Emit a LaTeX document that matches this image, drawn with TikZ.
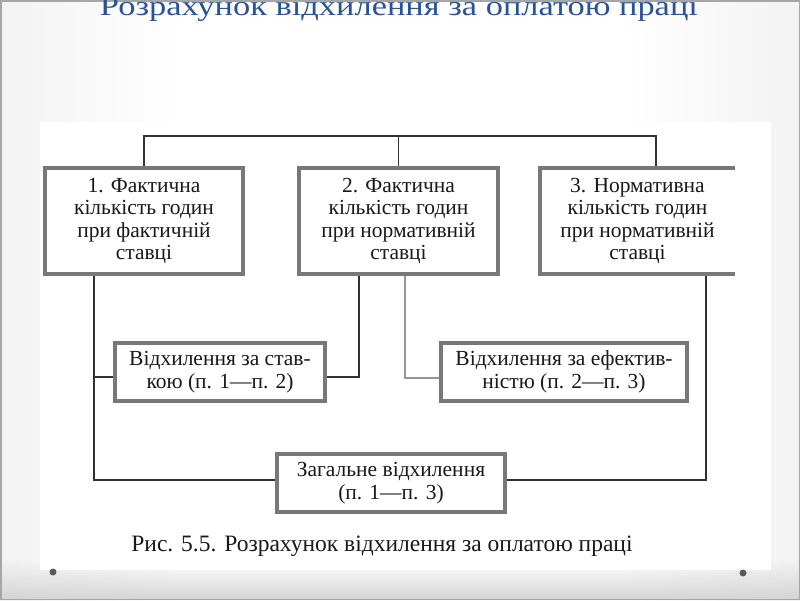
\documentclass[tikz,border=0pt]{standalone}
\usepackage{fontspec}
\setmainfont{Liberation Serif}
\usepackage{graphicx}
\usetikzlibrary{fadings}
\pgfdeclarelayer{bg}
\pgfdeclarelayer{lines}
\pgfsetlayers{bg,lines,main}
\definecolor{titleblue}{RGB}{42,82,150}
\definecolor{boxgray}{RGB}{120,120,120}
\definecolor{linedark}{RGB}{50,50,50}
\definecolor{linelight}{RGB}{150,150,150}
\definecolor{edgeA}{RGB}{212,212,212}
\definecolor{edgeB}{RGB}{234,234,234}
\definecolor{txt}{RGB}{25,25,25}
\pgfdeclarehorizontalshading{slidebg}{100bp}{color(0bp)=(edgeA); color(18bp)=(edgeB); color(36bp)=(white); color(64bp)=(white); color(82bp)=(edgeB); color(100bp)=(edgeA)}
\tikzset{
  box/.style={draw=boxgray, line width=4pt, fill=white, inner sep=0pt, align=center,
    font=\fontsize{21.5}{22.6}\selectfont, text=txt},
  openbox/.style={inner sep=0pt, align=center, fill=white,
    font=\fontsize{21.5}{22.6}\selectfont, text=txt},
  conn/.style={draw=linedark, line width=1.3pt},
  connlight/.style={draw=linelight, line width=1.3pt},
}
\begin{document}
\begin{tikzpicture}[x=1pt,y=-1pt]
\useasboundingbox (0,0) rectangle (800,600);
\begin{pgfonlayer}{bg}
  \shade[shading=slidebg] (0,0) rectangle (800,600);
  \fill[edgeA, path fading=north] (0,560) rectangle (800,600);
  \draw[gray!70, line width=1.5pt] (0.75,0.75) rectangle (799.25,599.25);
  \fill[white] (40,122) rectangle (771,570);
  \fill[gray!70!black] (53,572) circle (3.5);
  \fill[gray!70!black] (743,573) circle (3.5);
\end{pgfonlayer}

% title
\node[anchor=base, text=titleblue, inner sep=0pt] (title) at (399,15.7)
  {\resizebox{598pt}{18.5pt}{\fontsize{27}{27}\selectfont Розрахунок відхилення за оплатою праці}};

% boxes
\node[box, minimum width=198, minimum height=106] (b1) at (144,221)
  {1. Фактична\\кількість годин\\при фактичній\\ставці};
\node[box, minimum width=199, minimum height=106] (b2) at (398.5,221)
  {2. Фактична\\кількість годин\\при нормативній\\ставці};
\node[openbox, minimum width=195, minimum height=106] (b3) at (637.5,221)
  {3. Нормативна\\кількість годин\\при нормативній\\ставці};
\draw[boxgray, line width=4pt] (b3.north east) -- (b3.north west) -- (b3.south west) -- (b3.south east);

\node[box, minimum width=210, minimum height=58] (stavka) at (220,372)
  {Відхилення за став-\\кою (п. 1---п. 2)};
\node[box, minimum width=246, minimum height=58] (efekt) at (564,372)
  {Відхилення за ефектив-\\ністю (п. 2---п. 3)};
\node[box, minimum width=228, minimum height=58] (zag) at (391,483)
  {Загальне відхилення\\(п. 1---п. 3)};

% caption
\node[anchor=base, inner sep=0pt, font=\fontsize{23.5}{26}\selectfont, text=txt] (cap) at (382,551)
  {Рис. 5.5. Розрахунок відхилення за оплатою праці};

% connectors
\coordinate (tl) at (144,136);
\coordinate (tr) at (656,136);
\coordinate (l1) at (94,377);
\coordinate (l2) at (94,480);
\coordinate (m1) at (359,377);
\coordinate (m2) at (405,378);
\coordinate (r2) at (706,480);
\begin{pgfonlayer}{lines}
  \draw[conn] (b1.north) -- (tl) -- (tr) -- (tr |- b3.north);
  \draw[conn] (b2.north) -- (b2.north |- tl);
  \draw[conn] (b1.south -| l1) -- (l2) -- (l2 -| zag.west);
  \draw[conn] (l1) -- (l1 -| stavka.west);
  \draw[conn] (b2.south -| m1) -- (m1) -- (m1 -| stavka.east);
  \draw[connlight] (b2.south -| m2) -- (m2) -- (m2 -| efekt.west);
  \draw[conn] (b3.south -| r2) -- (r2) -- (r2 -| zag.east);
\end{pgfonlayer}
\end{tikzpicture}
\end{document}
